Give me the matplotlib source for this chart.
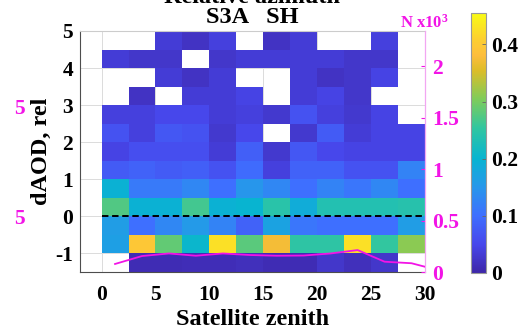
import numpy as np
import matplotlib
matplotlib.use("Agg")
import matplotlib.pyplot as plt
from matplotlib.colors import LinearSegmentedColormap

# ---------------- data ----------------
zen_edges = [0, 2.5, 5, 7.5, 10, 12.5, 15, 17.5, 20, 22.5, 25, 27.5, 30]
daod_edges = [-1.5, -1, -0.5, 0, 0.5, 1, 1.5, 2, 2.5, 3, 3.5, 4, 4.5, 5]
nan = np.nan
# rows from bottom (-1.5..-1) to top (4.5..5), 12 zenith bins each
r_m15 = [nan, .010, .010, .012, .012, .015, .010, .010, .025, .015, .025, nan]
r_m10 = [.165, .395, .285, .205, .425, .280, .375, .250, .250, .425, .255, .310]
r_m05 = [.160, .100, .130, .155, .125, .085, .170, .110, .100, .100, .100, .160]
r_p00 = [.275, .195, .195, .265, .195, .200, .245, .185, .235, .235, .235, .240]
r_p05 = [.195, .115, .115, .130, .100, .150, .130, .100, .125, .110, .130, .100]
r_p10 = [.075, .085, .075, .080, .065, .095, .040, .085, .085, .065, .065, .125]
r_p15 = [.045, .060, .060, .060, .035, .080, .030, .070, .050, .045, .045, .045]
r_p20 = [.065, .040, .070, .065, .030, .050, nan, .030, .075, .035, .045, .045]
r_p25 = [.040, .040, .050, .050, .035, .040, .030, .065, .040, .030, .045, nan]
r_p30 = [nan, .020, nan, .035, .035, .045, nan, .035, .045, .025, nan, nan]
r_p35 = [nan, nan, .035, .020, .035, nan, nan, .035, .020, .025, .045, nan]
r_p40 = [.035, .025, .025, nan, .025, .035, .035, .035, .035, .025, .025, nan]
r_p45 = [nan, nan, .035, .020, .040, nan, .020, .035, nan, nan, .040, nan]

count_zen = [1.25, 3.75, 6.25, 8.75, 11.25, 13.75, 16.25, 18.75, 21.25, 23.75, 26.25, 28.75, 31.25]
count_k = [0.078, 0.155, 0.180, 0.158, 0.180, 0.165, 0.158, 0.160, 0.180, 0.213, 0.100, 0.085, 0.017]

x_ticks = [0, 5, 10, 15, 20, 25, 30]
y_ticks = [-1, 0, 1, 2, 3, 4, 5]
n_ticks = [0, 0.5, 1, 1.5, 2]
n_ticklabels = ["0", "0.5", "1", "1.5", "2"]
c_ticks = [0, 0.1, 0.2, 0.3, 0.4]
c_ticklabels = ["0", "0.1", "0.2", "0.3", "0.4"]

# ---------------- style ----------------
plt.rcParams["font.family"] = ["Liberation Serif", "DejaVu Serif"]
plt.rcParams["font.weight"] = "bold"
plt.rcParams["axes.unicode_minus"] = False
plt.rcParams["mathtext.fontset"] = "custom"
plt.rcParams["mathtext.rm"] = "Liberation Serif:bold"
plt.rcParams["mathtext.bf"] = "Liberation Serif:bold"
plt.rcParams["mathtext.it"] = "Liberation Serif:bold:italic"

parula_pts = [
    (0.00, (0.2422, 0.1504, 0.6603)),
    (0.11, (0.2803, 0.2782, 0.9221)),
    (0.22, (0.2440, 0.4358, 0.9988)),
    (0.33, (0.1540, 0.5902, 0.9218)),
    (0.44, (0.0297, 0.7082, 0.8163)),
    (0.56, (0.1938, 0.7758, 0.6251)),
    (0.67, (0.5044, 0.7993, 0.3480)),
    (0.78, (0.8634, 0.7406, 0.1596)),
    (0.84, (0.9930, 0.7430, 0.2390)),
    (0.90, (0.9892, 0.8136, 0.1885)),
    (1.00, (0.9769, 0.9839, 0.0805)),
]
parula = LinearSegmentedColormap.from_list("parula", parula_pts, N=256)

MAG = (0.95, 0.08, 0.90)
W, H = 518, 329

fig = plt.figure(figsize=(W / 100, H / 100), dpi=100)
ax = fig.add_axes([80 / W, 1 - 272 / H, 345 / W, 241 / H])

Z = np.ma.masked_invalid(np.array([r_m15, r_m10, r_m05, r_p00, r_p05, r_p10, r_p15,
                                   r_p20, r_p25, r_p30, r_p35, r_p40, r_p45]))
mesh = ax.pcolormesh(zen_edges, daod_edges, Z, cmap=parula, vmin=0, vmax=0.455,
                     zorder=1)
ax.hlines(0, zen_edges[0], zen_edges[-1], colors="k", linestyles=(0, (3.3, 1.9)),
          lw=1.4, zorder=3)
ax.set_xlim(-2, 30)
ax.set_ylim(-1.5, 5)
ax.set_xticks(x_ticks)
ax.set_yticks(y_ticks)
ax.grid(True, color="0.86", lw=0.7)
ax.set_axisbelow(True)
ax.tick_params(axis="both", length=0, labelsize=15.5)
ax.tick_params(axis="x", pad=9)
ax.tick_params(axis="y", pad=5)
for s in ("left", "bottom"):
    ax.spines[s].set_color("0.3")
    ax.spines[s].set_linewidth(0.8)
ax.spines["top"].set_color("0.8")
ax.spines["top"].set_linewidth(0.8)
ax.spines["right"].set_visible(False)

ax2 = ax.twinx()
ax2.plot(count_zen, count_k, color=MAG, lw=1.3, zorder=4)
ax2.set_ylim(0, 2.34)
ax2.set_yticks(n_ticks)
ax2.set_yticklabels(n_ticklabels)
ax2.tick_params(axis="y", colors=MAG, direction="in", length=3, width=0.8,
                labelsize=15.5, pad=5)
for s in ("left", "top", "bottom"):
    ax2.spines[s].set_visible(False)
ax2.spines["right"].set_color((0.95, 0.65, 0.95))
ax2.spines["right"].set_linewidth(0.9)

cax = fig.add_axes([471 / W, 1 - 273 / H, 15 / W, 260 / H])
cb = fig.colorbar(mesh, cax=cax, ticks=c_ticks)
cb.ax.set_yticklabels(c_ticklabels)
cb.ax.tick_params(direction="in", length=3, width=0.6, color="0.4", labelsize=15.5, pad=4)
cb.outline.set_edgecolor("0.6")
cb.outline.set_linewidth(0.8)

# labels / titles
fig.text(41 / W, 1 - 151 / H, "dAOD, rel", rotation=90, ha="center", va="center",
         fontsize=17.5, fontweight="bold")
fig.text(252.5 / W, 1 - 325 / H, "Satellite zenith", ha="center", va="baseline",
         fontsize=17.5, fontweight="bold")
fig.text(252.5 / W, 1 - 23 / H, "S3A   SH", ha="center", va="baseline",
         fontsize=17.5, fontweight="bold")
fig.text(252.5 / W, 1 - 3 / H, "Relative azimuth", ha="center", va="baseline",
         fontsize=17.5, fontweight="bold")
fig.text(400 / W, 1 - 28 / H, r"N x10$^{3}$", ha="left", va="baseline",
         fontsize=12, fontweight="bold", color=MAG)
# fragments of the neighbouring panel's axis labels
fig.text(25 / W, 1 - 109 / H, "5", ha="right", va="center", fontsize=15.5,
         fontweight="bold", color=MAG)
fig.text(25 / W, 1 - 219 / H, "5", ha="right", va="center", fontsize=15.5,
         fontweight="bold", color=MAG)

fig.savefig("out.png", dpi=100)
